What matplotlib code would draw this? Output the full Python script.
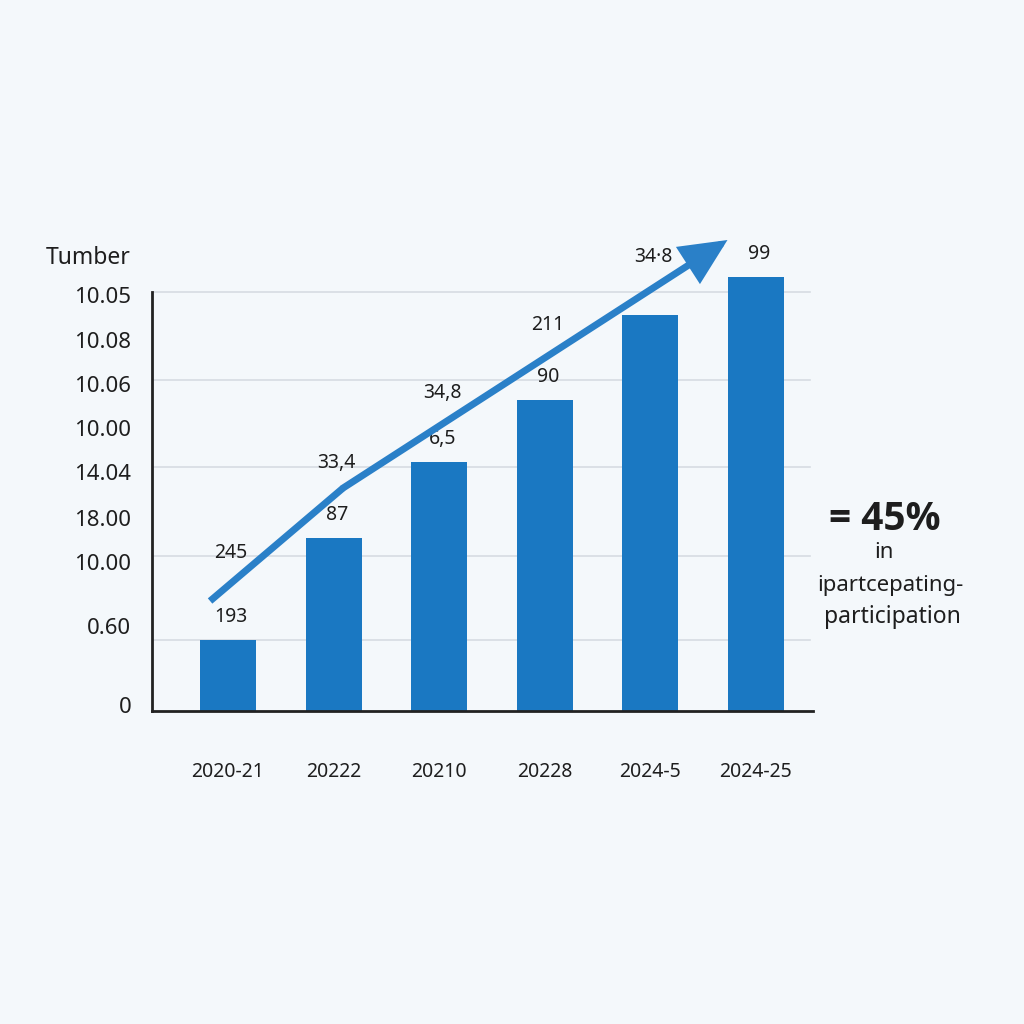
import numpy as np
import matplotlib.pyplot as plt

plt.rcParams['font.family'] = ['Noto Sans', 'DejaVu Sans']

# chart data
categories = ['2020-21', '20222', '20210', '20228', '2024-5', '2024-25']
bar_values = [71, 173, 249, 311, 396, 434]
bar_labels = ['193', '87', '6,5', '90', '', '99']
trend_labels = ['245', '33,4', '34,8', '211', '34·8']
trend_x = [-0.17, 1.09, 4.73]
trend_y = [110, 223, 471]
ytick_values = [416, 371, 327, 283, 239, 193, 149, 85, 6]
ytick_labels = ['10.05', '10.08', '10.06', '10.00', '14.04', '18.00', '10.00', '0.60', '0']
grid_values = [71, 155, 244, 331, 419]

bg = '#f4f8fb'
bar_color = '#1a78c2'
arrow_color = '#2a80c8'
txt = '#1e1e1e'

fig = plt.figure(figsize=(10.24, 10.24), dpi=100, facecolor=bg)
ax = fig.add_axes([152 / 1024, 313 / 1024, 661 / 1024, 481 / 1024])
ax.set_facecolor(bg)

x = np.arange(len(categories))
ax.set_xlim(-0.72, 5.54)
ax.set_ylim(0, 481)

# grid lines
for g in grid_values:
    ax.axhline(g, color='#d6dce2', lw=1.2, zorder=0, xmax=0.995)

ax.bar(x, bar_values, width=0.53, color=bar_color, zorder=2)

# value labels above bars
for xi, v, lab in zip(x, bar_values, bar_labels):
    if lab:
        ax.text(xi + 0.03, v + 23, lab, ha='center', va='center', fontsize=14, color=txt)

# trend arrow
ax.plot(trend_x[:2], trend_y[:2], color=arrow_color, lw=5, solid_capstyle='butt',
        solid_joinstyle='round', zorder=3)
ax.annotate('', xy=(trend_x[2], trend_y[2]), xytext=(trend_x[1], trend_y[1]),
            arrowprops=dict(arrowstyle='-|>,head_length=0.85,head_width=0.4', lw=5,
                            color=arrow_color, mutation_scale=30, shrinkA=0, shrinkB=0,
                            joinstyle='miter'),
            zorder=3, annotation_clip=False)

# labels along trend
for xi, lab in zip(x[:5], trend_labels):
    ty = np.interp(xi, trend_x, trend_y)
    ax.text(xi + 0.03, ty + 33, lab, ha='center', va='center', fontsize=14, color=txt)

ax.set_xticks(x)
ax.set_xticklabels(categories, fontsize=14, color=txt)
ax.tick_params(axis='x', length=0, pad=37)
ax.set_yticks(ytick_values)
ax.set_yticklabels(ytick_labels, fontsize=16, color=txt)
ax.tick_params(axis='y', length=0, pad=15)

for s in ['top', 'right']:
    ax.spines[s].set_visible(False)
ax.spines['left'].set_bounds(0, 419)
ax.spines['left'].set_linewidth(2)
ax.spines['bottom'].set_linewidth(2)
ax.spines['left'].set_color('#222222')
ax.spines['bottom'].set_color('#222222')

fig.text(88 / 1024, 1 - 258 / 1024, 'Tumber', ha='center', va='center', fontsize=16.5, color=txt)

fig.text(885 / 1024, 1 - 519 / 1024, '= 45%', ha='center', va='center', fontsize=28,
         fontweight='bold', family=['Open Sans', 'DejaVu Sans'], color=txt)
fig.text(884 / 1024, 1 - 553 / 1024, 'in', ha='center', va='center', fontsize=16, color=txt)
fig.text(890 / 1024, 1 - 585 / 1024, 'ipartcepating-', ha='center', va='center', fontsize=16,
         color=txt)
fig.text(892 / 1024, 1 - 617 / 1024, 'participation', ha='center', va='center', fontsize=16.5,
         color=txt)

fig.savefig('out.png', dpi=100, facecolor=bg)
